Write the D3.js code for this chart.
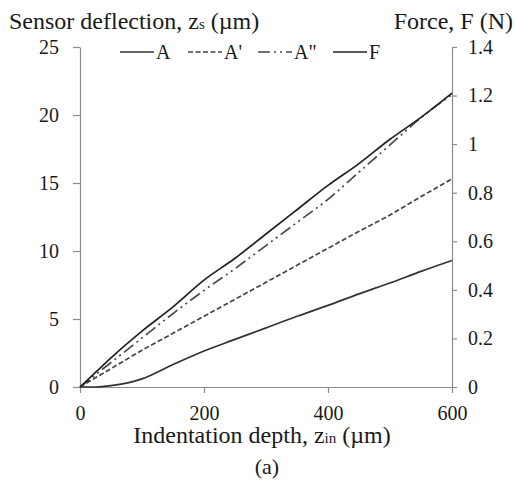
<!DOCTYPE html>
<html>
<head>
<meta charset="utf-8">
<script src="https://cdn.jsdelivr.net/npm/d3@7"></script>
<style>
  body { margin: 0; background: #fff; }
  svg text { font-family: "Liberation Serif", "DejaVu Serif", "Times New Roman", Times, serif; fill: #1a1a1a; }
</style>
</head>
<body>
<script>
// indentation depth (um)
const depth = [0, 25, 50, 100, 150, 200, 250, 300, 350, 400, 450, 500, 550, 600];
// sensor deflections (um), left axis
const seriesA   = [0, 0, 0.1, 0.6, 1.65, 2.65, 3.5, 4.35, 5.2, 6.0, 6.85, 7.65, 8.5, 9.3];
const seriesA1  = [0, 0.68, 1.35, 2.7, 3.95, 5.2, 6.45, 7.7, 8.95, 10.2, 11.45, 12.65, 14.0, 15.3];
const seriesA2  = [0, 0.9, 1.8, 3.6, 5.4, 7.1, 8.7, 10.4, 12.1, 13.8, 15.8, 17.8, 19.8, 21.5];
// force (N), right axis
const seriesF   = [0, 0.06, 0.12, 0.23, 0.33, 0.44, 0.53, 0.63, 0.73, 0.83, 0.92, 1.02, 1.11, 1.21];

const xTicks = [0, 200, 400, 600];
const yLeftTicks = [0, 5, 10, 15, 20, 25];
const yRightTicks = [0, 0.2, 0.4, 0.6, 0.8, 1, 1.2, 1.4];

const W = 516, H = 481;
const M = { left: 80, right: 64, top: 47, bottom: 94 };
const innerW = W - M.left - M.right;
const innerH = H - M.top - M.bottom;
const FONT = '"Liberation Serif", "DejaVu Serif", "Times New Roman", Times, serif';

const svg = d3.select('body').append('svg')
    .attr('width', W)
    .attr('height', H)
    .attr('font-family', FONT);

const g = svg.append('g').attr('transform', `translate(${M.left},${M.top})`);

const x = d3.scaleLinear().domain([0, 600]).range([0, innerW]);
const yL = d3.scaleLinear().domain([0, 25]).range([innerH, 0]);
const yR = d3.scaleLinear().domain([0, 1.4]).range([innerH, 0]);

const axisColor = '#8c8c8c';
function styleAxis(sel) {
    sel.attr('font-family', FONT).attr('font-size', 20);
    sel.selectAll('.domain').attr('stroke', axisColor).attr('stroke-width', 1.2);
    sel.selectAll('.tick line').attr('stroke', axisColor).attr('stroke-width', 1.2);
    sel.selectAll('.tick text').attr('fill', '#1a1a1a');
}

g.append('g')
    .attr('transform', `translate(0,${innerH})`)
    .call(d3.axisBottom(x).tickValues(xTicks).tickSize(6).tickSizeOuter(0).tickPadding(13))
    .call(styleAxis);

g.append('g')
    .call(d3.axisLeft(yL).tickValues(yLeftTicks).tickSize(7).tickSizeOuter(0).tickPadding(14))
    .call(styleAxis);

g.append('g')
    .attr('transform', `translate(${innerW},0)`)
    .call(d3.axisRight(yR).tickValues(yRightTicks).tickSize(5).tickSizeOuter(0).tickPadding(11)
        .tickFormat(d => d3.format('~g')(d)))
    .call(styleAxis);

const lines = [
    { name: 'A',   values: seriesA,  y: yL, dash: null,              color: '#333', w: 1.7 },
    { name: "A'",  values: seriesA1, y: yL, dash: '5,2.5',           color: '#444', w: 1.7 },
    { name: 'A"',  values: seriesA2, y: yL, dash: '12,4,2,4,2,4',    color: '#4a4a4a', w: 1.7 },
    { name: 'F',   values: seriesF,  y: yR, dash: null,              color: '#222', w: 1.7 }
];

lines.forEach(s => {
    const line = d3.line()
        .x((d, i) => x(depth[i]))
        .y(d => s.y(d))
        .curve(d3.curveMonotoneX);
    g.append('path')
        .datum(s.values)
        .attr('fill', 'none')
        .attr('stroke', s.color)
        .attr('stroke-width', s.w)
        .attr('stroke-dasharray', s.dash)
        .attr('d', line);
});

// legend
const legendPos = [120, 188, 258, 333];
const legend = svg.append('g').attr('transform', 'translate(0,52)');
lines.forEach((s, i) => {
    const lg = legend.append('g').attr('transform', `translate(${legendPos[i]},0)`);
    lg.append('line')
        .attr('x1', 0).attr('x2', 34)
        .attr('stroke', s.color)
        .attr('stroke-width', s.w)
        .attr('stroke-dasharray', s.dash);
    lg.append('text')
        .attr('x', 36).attr('y', 7)
        .attr('font-size', 20)
        .text(s.name);
});

// axis titles
const tL = svg.append('text').attr('x', 9).attr('y', 29).attr('font-size', 24);
tL.append('tspan').text('Sensor deflection, z');
tL.append('tspan').attr('font-size', 15).text('s');
tL.append('tspan').text(' (\u00b5m)');

svg.append('text')
    .attr('x', 513).attr('y', 29)
    .attr('text-anchor', 'end')
    .attr('font-size', 24)
    .text('Force, F (N)');

const tX = svg.append('text')
    .attr('x', 262).attr('y', 443)
    .attr('text-anchor', 'middle')
    .attr('font-size', 24);
tX.append('tspan').text('Indentation depth, z');
tX.append('tspan').attr('font-size', 15).text('in');
tX.append('tspan').text(' (\u00b5m)');

svg.append('text')
    .attr('x', 267).attr('y', 474)
    .attr('text-anchor', 'middle')
    .attr('font-size', 22)
    .text('(a)');
</script>
</body>
</html>
